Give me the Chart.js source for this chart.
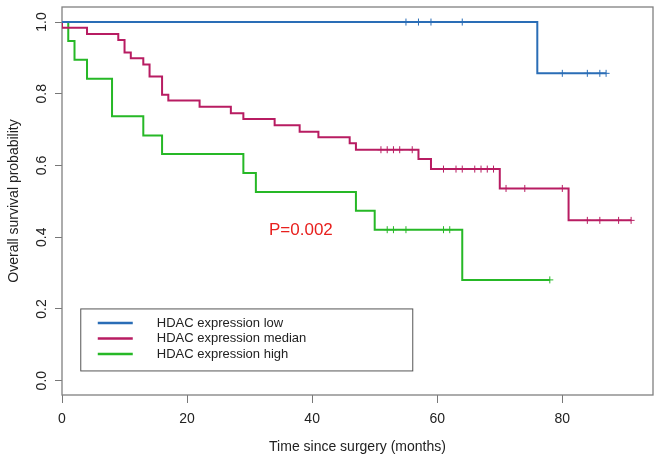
<!DOCTYPE html>
<html>
<head>
<meta charset="utf-8">
<script src="https://cdn.jsdelivr.net/npm/chart.js@4.4.1/dist/chart.umd.min.js"></script>
<style>
  html, body { margin: 0; padding: 0; background: #fff; }
</style>
</head>
<body>
<canvas id="kmChart" width="661" height="464"></canvas>
<script>
// Kaplan-Meier curves: time (months) and survival after each step
const groupLabels = ['HDAC expression low', 'HDAC expression median', 'HDAC expression high'];
const groupColors = ['#2a6db6', '#b81c62', '#26b826'];

const lowTimes = [0, 76, 87];
const lowSurv = [1, 0.857, 0.857];
const lowCensor = [55, 57, 59, 64, 80, 84, 86, 87];

const medianTimes = [0, 0, 4, 9, 10, 11, 13, 14, 16, 17, 22, 27, 29, 34, 38, 41, 46, 47, 57, 59, 70, 81, 91];
const medianSurv = [1, 0.984, 0.967, 0.950, 0.915, 0.899, 0.882, 0.848, 0.797, 0.781, 0.764, 0.746, 0.730, 0.712, 0.694, 0.679, 0.662, 0.644, 0.618, 0.590, 0.536, 0.447, 0.447];
const medianCensor = [51, 52, 53, 54, 56, 61, 63, 64, 66, 67, 68, 69, 71, 74, 80, 84, 86, 89, 91];

const highTimes = [0, 1, 2, 4, 8, 13, 16, 29, 31, 47, 50, 64, 78];
const highSurv = [1, 0.947, 0.895, 0.842, 0.737, 0.684, 0.632, 0.579, 0.526, 0.474, 0.421, 0.281, 0.281];
const highCensor = [52, 53, 55, 61, 62, 78];

const xTicks = [0, 20, 40, 60, 80];
const yTicks = [0, 0.2, 0.4, 0.6, 0.8, 1.0];
const pValueText = 'P=0.002';
const pValuePos = { x: 38.2, y: 0.42 };
const legendPos = { x: 3, y: 0.2 };

const FONT = "'Liberation Sans', Arial, sans-serif";

function survAt(times, surv, t) {
  let s = surv[0];
  for (let i = 0; i < times.length; i++) {
    if (times[i] <= t) s = surv[i];
  }
  return s;
}

function curve(label, times, surv, color) {
  return {
    label: label,
    data: times.map((t, i) => ({ x: t, y: surv[i] })),
    borderColor: color,
    backgroundColor: color,
    borderWidth: 2,
    stepped: 'before',
    pointRadius: 0,
    fill: false
  };
}

function censorMarks(times, surv, censor, color) {
  return {
    label: '',
    data: censor.map(t => ({ x: t, y: survAt(times, surv, t) })),
    showLine: false,
    pointStyle: 'cross',
    pointRadius: 3.5,
    pointBorderWidth: 1,
    borderColor: color,
    backgroundColor: color,
    isCensor: true
  };
}

const extras = {
  id: 'extras',
  beforeDatasetsDraw(chart) {
    const { ctx, chartArea: a } = chart;
    ctx.save();
    ctx.strokeStyle = '#808080';
    ctx.lineWidth = 1.3;
    ctx.strokeRect(a.left, a.top, a.right - a.left, a.bottom - a.top);
    ctx.restore();
  },
  afterDraw(chart) {
    const { ctx } = chart;
    const xs = chart.scales.x, ys = chart.scales.y;
    ctx.save();
    // rotated y tick labels, R style
    ctx.fillStyle = '#222';
    ctx.font = '14px ' + FONT;
    ctx.textAlign = 'center';
    ctx.textBaseline = 'middle';
    yTicks.forEach(v => {
      ctx.save();
      ctx.translate(42.5, ys.getPixelForValue(v));
      ctx.rotate(-Math.PI / 2);
      ctx.fillText(v.toFixed(1), 0, 0);
      ctx.restore();
    });

    // p value
    ctx.fillStyle = '#e8201e';
    ctx.font = '17px ' + FONT;
    ctx.fillText(pValueText, xs.getPixelForValue(pValuePos.x), ys.getPixelForValue(pValuePos.y));

    // legend box
    const lx = xs.getPixelForValue(legendPos.x);
    const ly = ys.getPixelForValue(legendPos.y);
    ctx.strokeStyle = '#555';
    ctx.lineWidth = 1;
    ctx.strokeRect(lx, ly, 332, 62);
    ctx.font = '13px ' + FONT;
    ctx.textAlign = 'left';
    groupLabels.forEach((lab, i) => {
      const yy = ly + 14 + i * 15.5;
      ctx.strokeStyle = groupColors[i];
      ctx.lineWidth = 2.5;
      ctx.beginPath();
      ctx.moveTo(lx + 17, yy);
      ctx.lineTo(lx + 52, yy);
      ctx.stroke();
      ctx.fillStyle = '#222';
      ctx.fillText(lab, lx + 76, yy);
    });
    ctx.restore();
  }
};

new Chart(document.getElementById('kmChart'), {
  type: 'line',
  data: {
    datasets: [
      curve(groupLabels[0], lowTimes, lowSurv, groupColors[0]),
      curve(groupLabels[1], medianTimes, medianSurv, groupColors[1]),
      curve(groupLabels[2], highTimes, highSurv, groupColors[2]),
      censorMarks(lowTimes, lowSurv, lowCensor, groupColors[0]),
      censorMarks(medianTimes, medianSurv, medianCensor, groupColors[1]),
      censorMarks(highTimes, highSurv, highCensor, groupColors[2])
    ]
  },
  options: {
    responsive: false,
    animation: false,
    devicePixelRatio: 1,
    layout: { padding: { top: 7, right: 8, left: 0, bottom: 0 } },
    plugins: {
      legend: { display: false },
      tooltip: { enabled: false }
    },
    scales: {
      x: {
        type: 'linear',
        min: 0,
        max: 94.5,
        afterBuildTicks: s => { s.ticks = xTicks.map(v => ({ value: v })); },
        afterFit: s => { s.height = 69; },
        ticks: { font: { size: 14, family: FONT }, color: '#222', padding: 8, maxRotation: 0 },
        grid: { drawOnChartArea: false, drawTicks: true, tickLength: 8, color: '#777' },
        border: { display: false },
        title: {
          display: true,
          text: 'Time since surgery (months)',
          font: { size: 14, family: FONT },
          color: '#222',
          padding: { top: 0, bottom: 8 }
        }
      },
      y: {
        min: -0.04,
        max: 1.042,
        afterBuildTicks: s => { s.ticks = yTicks.map(v => ({ value: v })); },
        afterFit: s => { s.width = 62; },
        ticks: { display: false },
        grid: { drawOnChartArea: false, drawTicks: true, tickLength: 7, color: '#777' },
        border: { display: false },
        title: {
          display: true,
          text: 'Overall survival probability',
          font: { size: 14, family: FONT },
          color: '#222',
          padding: { top: 6, bottom: 0 }
        }
      }
    }
  },
  plugins: [extras]
});
</script>
</body>
</html>
